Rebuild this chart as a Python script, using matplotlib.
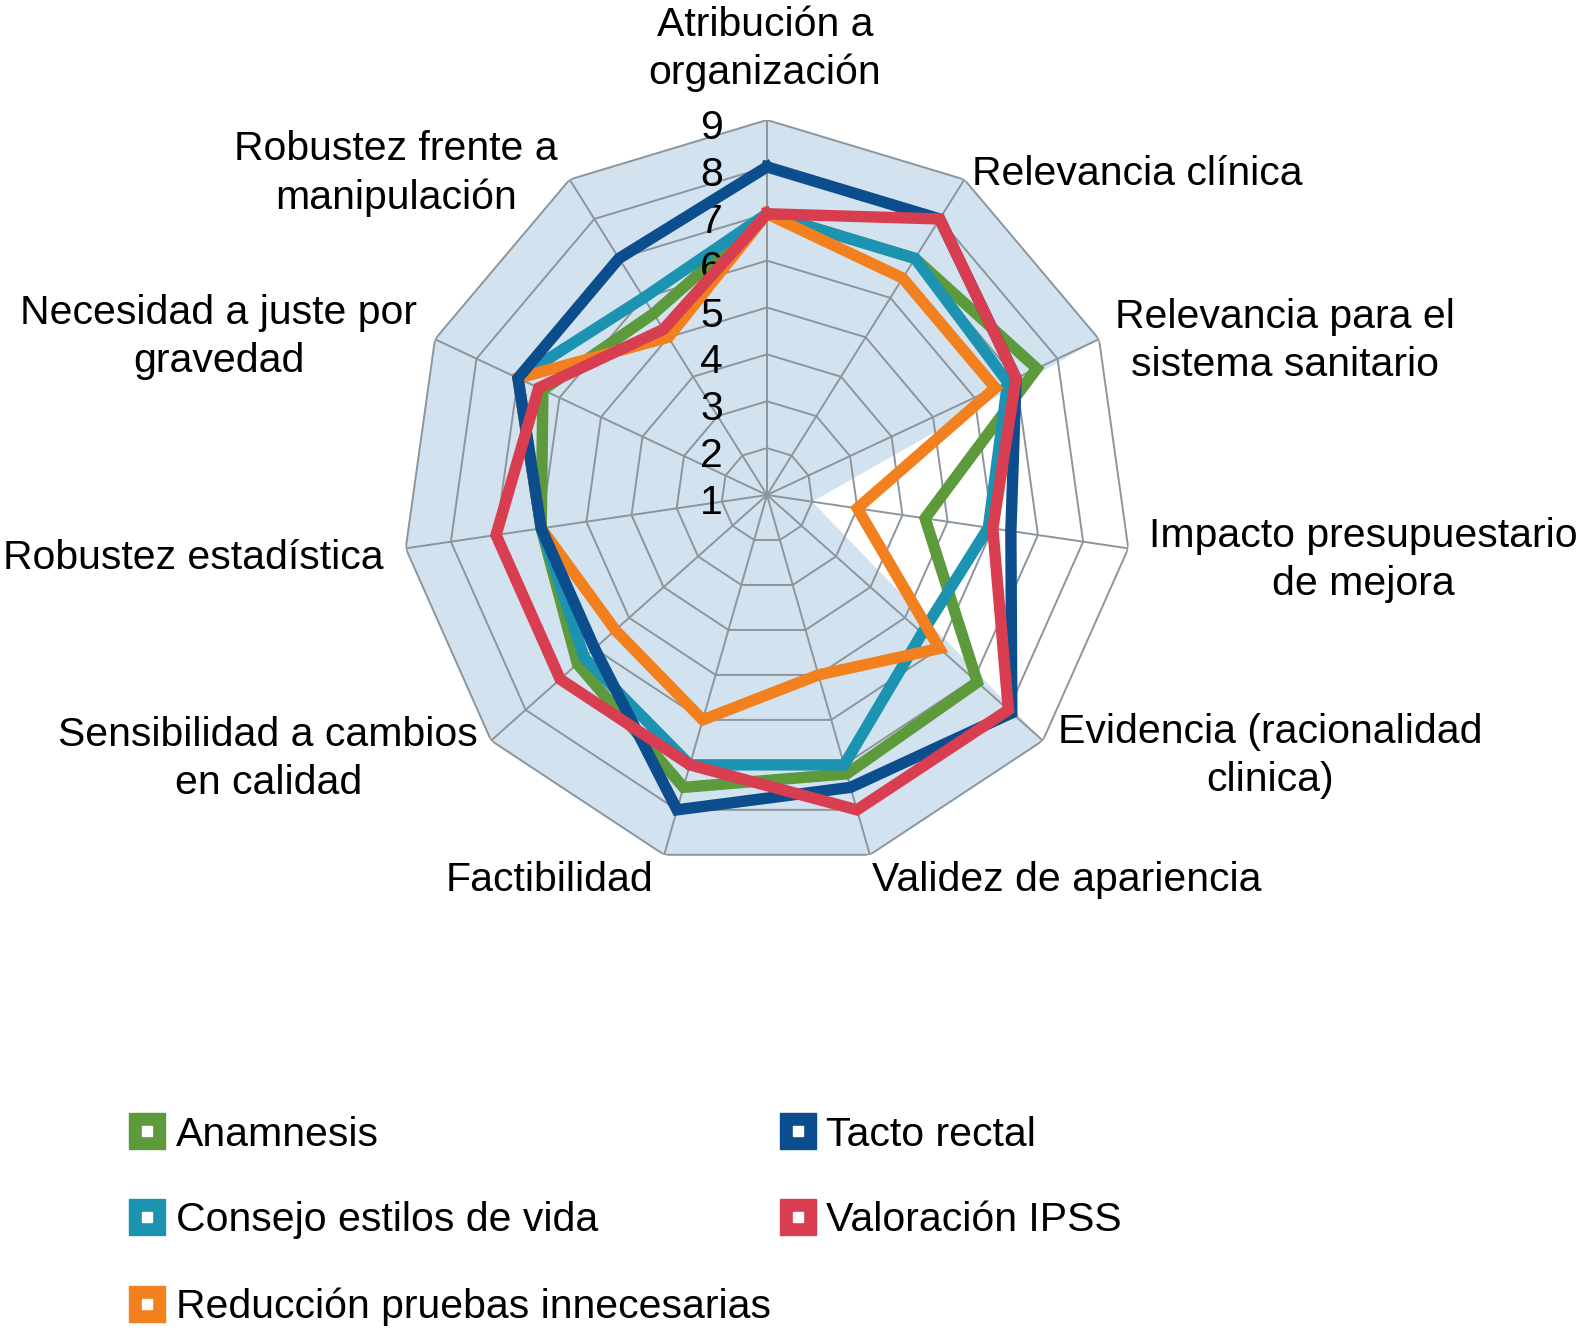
import numpy as np
import matplotlib
matplotlib.use('Agg')
import matplotlib.pyplot as plt
from matplotlib.lines import Line2D
from matplotlib.legend_handler import HandlerTuple

plt.rcParams['font.family'] = ['Liberation Sans', 'DejaVu Sans']

categories = ['Atribución a\norganización', 'Relevancia clínica',
              'Relevancia para el\nsistema sanitario',
              'Impacto presupuestario\nde mejora',
              'Evidencia (racionalidad\nclinica)', 'Validez de apariencia',
              'Factibilidad', 'Sensibilidad a cambios\nen calidad',
              'Robustez estadística', 'Necesidad a juste por\ngravedad',
              'Robustez frente a\nmanipulación']

anamnesis = [7, 7, 7.5, 4.5, 7.1, 7.2, 7.5, 6.5, 6, 6.4, 5.6]
tacto = [8, 8, 7, 6.4, 8.1, 7.5, 8, 6, 6, 7, 7]
consejo = [7, 7, 6.8, 5.9, 5.5, 7, 7, 6.3, 6, 7, 6]
ipss = [7, 8, 7, 6, 8, 8, 7, 7, 7, 6.5, 5.2]
reduccion = [7, 6.5, 6.5, 3, 6, 5, 6, 5.4, 6, 7, 5]

background = [9, 9, 9, 2, 9, 9, 9, 9, 9, 9, 9]
rings = [2, 3, 4, 5, 6, 7, 8, 9]
tick_vals = [1, 2, 3, 4, 5, 6, 7, 8, 9]

series = [('Anamnesis', anamnesis, '#5c9a3c'),
          ('Consejo estilos de vida', consejo, '#1b93b1'),
          ('Reducción pruebas innecesarias', reduccion, '#f2801f'),
          ('Tacto rectal', tacto, '#0c4e8d'),
          ('Valoración IPSS', ipss, '#d93d50')]
draw_order = [0, 1, 3, 4, 2]

n = len(categories)
theta = np.arange(n) * 2 * np.pi / n
tc = np.append(theta, theta[0])


def close(v):
    return list(v) + [v[0]]


fig = plt.figure(figsize=(15.85, 13.42), dpi=100)
ax = fig.add_axes([0.25363, 0.35171, 0.46057, 0.55887], projection='polar')
ax.set_theta_offset(np.pi / 2)
ax.set_theta_direction(-1)
ax.set_ylim(1, 9)
ax.set_aspect('auto')
ax.set_axis_off()

ax.fill(tc, close(background), color='#d2e3ef', zorder=0, lw=0)
grid_c = '#8c959d'
for r in rings:
    ax.plot(tc, [r] * len(tc), color=grid_c, lw=1.4, zorder=1)
for t in theta:
    ax.plot([t, t], [1, 9], color=grid_c, lw=1.4, zorder=1)

for i in draw_order:
    name, vals, col = series[i]
    ax.plot(tc, close(vals), color=col, lw=8.2, zorder=2 + i,
            solid_joinstyle='miter')

fs = 29.5
for v in tick_vals:
    ax.annotate(str(v), xy=(0, v), xytext=(-44, -8), textcoords='offset pixels',
                ha='right', va='center', fontsize=fs)

label_pos = [('center', -2, 71), ('left', 8, 6), ('left', 16, -2), ('left', 21, -12),
             ('left', 15, -15), ('left', 2, -25), ('right', -11, -25),
             ('right', -13, -18), ('right', -22, -10), ('right', -18, 2),
             ('right', -12, 6)]
for t, lab, (ha, dx, dy) in zip(theta, categories, label_pos):
    ax.annotate(lab, xy=(t, 9), xytext=(dx, dy), textcoords='offset pixels',
                ha=ha, va='center', multialignment='center', fontsize=fs,
                linespacing=1.33, annotation_clip=False)

handles = []
names = []
for name, vals, col in series:
    outer = Line2D([], [], ls='none', marker='s', markersize=26, color=col)
    inner = Line2D([], [], ls='none', marker='s', markersize=7, color='white')
    handles.append((outer, inner))
    names.append(name)

fig.legend(handles, names, ncol=2, loc='upper left', bbox_to_anchor=(0.0685, 0.184),
           frameon=False, fontsize=fs, handlelength=0.9, handletextpad=0.25,
           labelspacing=1.17, columnspacing=0.2, borderpad=0,
           handler_map={tuple: HandlerTuple(ndivide=1)})

fig.savefig('out.png', dpi=100, facecolor='white')
